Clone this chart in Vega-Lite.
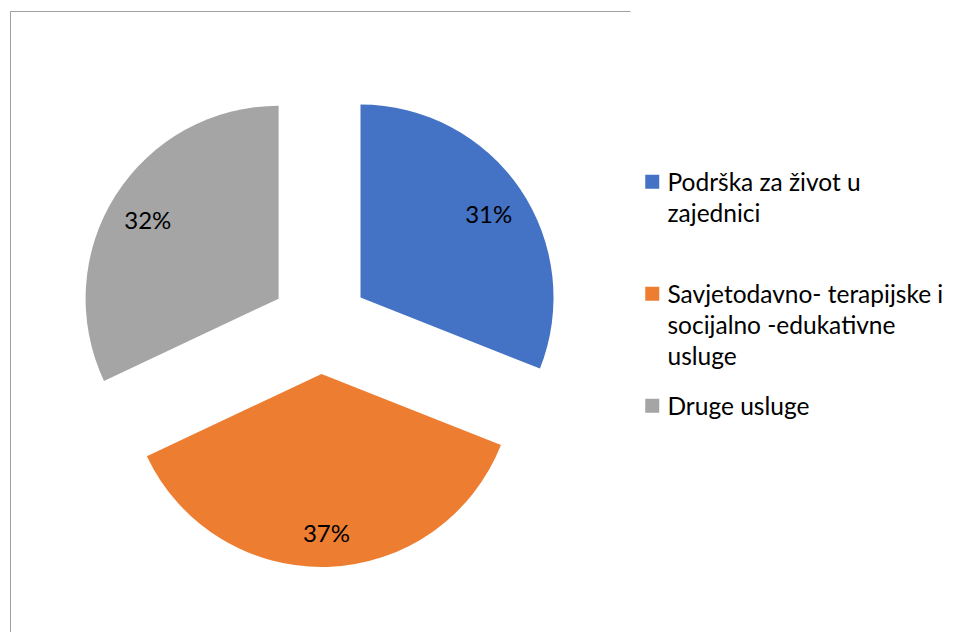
{
  "$schema": "https://vega.github.io/schema/vega-lite/v6.json",
  "width": 620,
  "height": 628,
  "padding": {"left": 10, "top": 11, "right": 0, "bottom": 0},
  "background": "white",
  "view": {"stroke": "#A0A0A0", "strokeWidth": 1, "strokeDash": [620, 1248, 628]},
  "data": {
    "values": [
      {"kategorija": "Podrška za život u zajednici", "udio": 0.31, "red": 1},
      {"kategorija": "Savjetodavno- terapijske i socijalno -edukativne usluge", "udio": 0.37, "red": 2},
      {"kategorija": "Druge usluge", "udio": 0.32, "red": 3}
    ]
  },
  "transform": [
    {"stack": "udio", "groupby": [], "sort": [{"field": "red", "order": "ascending"}], "as": ["v0", "v1"]}
  ],
  "layer": [
    {
      "transform": [{"filter": "datum.red == 1"}],
      "mark": {"type": "arc", "outerRadius": 193, "xOffset": 40.5, "yOffset": -27.5},
      "encoding": {
        "theta": {"field": "v0", "type": "quantitative", "scale": {"domain": [0, 1]}},
        "theta2": {"field": "v1"},
        "color": {"field": "kategorija", "type": "nominal"}
      }
    },
    {
      "transform": [{"filter": "datum.red == 2"}],
      "mark": {"type": "arc", "outerRadius": 193, "xOffset": 1.5, "yOffset": 49},
      "encoding": {
        "theta": {"field": "v0", "type": "quantitative", "scale": {"domain": [0, 1]}},
        "theta2": {"field": "v1"},
        "color": {"field": "kategorija", "type": "nominal"}
      }
    },
    {
      "transform": [{"filter": "datum.red == 3"}],
      "mark": {"type": "arc", "outerRadius": 193, "xOffset": -41.4, "yOffset": -26.3},
      "encoding": {
        "theta": {"field": "v0", "type": "quantitative", "scale": {"domain": [0, 1]}},
        "theta2": {"field": "v1"},
        "color": {
          "field": "kategorija",
          "type": "nominal",
          "title": null,
          "scale": {
            "domain": ["Podrška za život u zajednici", "Savjetodavno- terapijske i socijalno -edukativne usluge", "Druge usluge"],
            "range": ["#4472C4", "#ED7D31", "#A5A5A5"]
          },
          "legend": {
            "title": null,
            "labelExpr": "datum.label == 'Podrška za život u zajednici' ? ['Podrška za život u', 'zajednici'] : datum.label == 'Druge usluge' ? 'Druge usluge' : ['Savjetodavno- terapijske i', 'socijalno -edukativne', 'usluge']",
            "encode": {
              "labels": {"update": {"dy": {"value": 9}, "lineHeight": {"value": 31}}}
            }
          }
        }
      }
    },
    {
      "mark": {"type": "text", "font": "Lato", "fontSize": 24, "color": "#000000", "baseline": "middle", "align": "center", "dy": 6},
      "encoding": {
        "theta": {"field": "udio", "type": "quantitative", "stack": true},
        "order": {"field": "red", "type": "quantitative"},
        "detail": {"field": "kategorija", "type": "nominal"},
        "radius": {"value": 204},
        "text": {"field": "udio", "type": "quantitative", "format": ".0%"}
      }
    }
  ],
  "config": {
    "view": {"stroke": "#A0A0A0", "strokeWidth": 1, "strokeDash": [620, 1248, 628]},
    "legend": {
      "orient": "none",
      "legendX": 630,
      "legendY": 158.5,
      "padding": 0,
      "symbolType": "square",
      "symbolSize": 196,
      "symbolStrokeWidth": 0,
      "labelFont": "Lato",
      "labelFontSize": 24.5,
      "labelColor": "#000000",
      "labelLimit": 400,
      "labelBaseline": "alphabetic",
      "labelOffset": 3,
      "rowPadding": 24,
      "gridAlign": "all"
    }
  }
}
